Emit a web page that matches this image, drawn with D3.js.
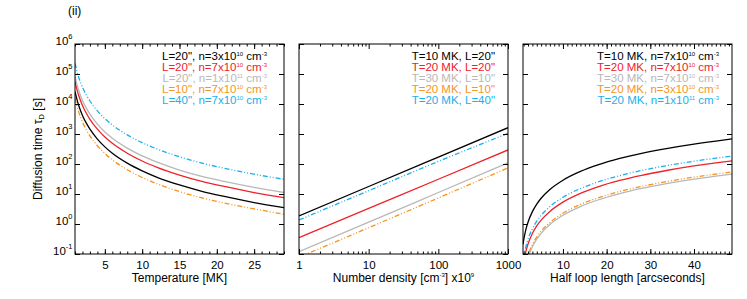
<!DOCTYPE html>
<html>
<head>
<meta charset="utf-8">
<title>Diffusion time</title>
<script src="https://d3js.org/d3.v7.min.js"></script>
<style>
body { margin: 0; background: #fff; }
text { font-family: "Liberation Sans", Arial, Helvetica, sans-serif; font-size: 12px; }
</style>
</head>
<body>
<div id="chart"></div>
<script>
// colours and line styles, same order in every panel
var colors = ["#000000", "#ee2229", "#b8b8b8", "#f7941d", "#19b0ec"];
var dashes = [null, null, null, "5,2,1,2,1,2", "5,2,1,2,1,2"];

// left panel: tau vs temperature [MK]
var temperature = [1, 1.25, 1.5, 2, 2.5, 3, 4, 5, 6, 8, 10, 12, 15, 18, 21, 25, 29];
var tauT_L20_n3e10 = [26300, 14500, 8900, 4170, 2340, 1450, 676, 372, 229, 107, 59, 36, 20, 12.3, 8.3, 5.2, 3.5];
var tauT_L20_n7e10 = [56200, 30900, 19100, 8910, 5010, 3090, 1450, 794, 490, 229, 126, 77.6, 42.7, 26.3, 17.8, 11.2, 7.6];
var tauT_L20_n1e11 = [83200, 45700, 28200, 13200, 7410, 4570, 2140, 1170, 724, 339, 186, 115, 63, 38.9, 26.3, 16.6, 11.2];
var tauT_L10_n7e10 = [15800, 8710, 5370, 2510, 1410, 871, 407, 224, 138, 64.6, 35.5, 21.9, 12, 7.4, 5, 3.2, 2.1];
var tauT_L40_n7e10 = [229000, 126000, 77600, 36300, 20400, 12600, 5890, 3240, 2000, 933, 513, 316, 174, 107, 72.4, 45.7, 30.9];
var tempLegend = ['L=20", n=3x10^{10} cm^{-3}', 'L=20", n=7x10^{10} cm^{-3}', 'L=20", n=1x10^{11} cm^{-3}',
                  'L=10", n=7x10^{10} cm^{-3}', 'L=40", n=7x10^{10} cm^{-3}'];
var tempTicks = [5, 10, 15, 20, 25];

// middle panel: tau vs number density [x10^9 cm^-3]
var density = [1, 10, 100, 1000];
var tauN_T10_L20 = [1.85, 17.8, 170, 1620];
var tauN_T20_L20 = [0.35, 3.3, 31, 294];
var tauN_T30_L10 = [0.12, 1.15, 11.2, 109];
var tauN_T20_L10 = [0.078, 0.75, 7.4, 74];
var tauN_T20_L40 = [1.36, 12.9, 122, 1050];
var densLegend = ['T=10 MK, L=20"', 'T=20 MK, L=20"', 'T=30 MK, L=10"', 'T=20 MK, L=10"', 'T=20 MK, L=40"'];
var densTicks = [1, 10, 100, 1000];

// right panel: tau vs half loop length [arcsec]
var loopLength = [0.85, 1, 1.5, 2, 3, 4, 5, 7, 10, 14, 18, 23, 28, 34, 40, 45, 49];
var tauL_T10_n7e10 = [0.209, 0.288, 0.649, 1.15, 2.59, 4.61, 7.21, 14.1, 28.8, 56.5, 93.3, 153, 226, 333, 461, 583, 692];
var tauL_T20_n7e10 = [0.039, 0.0537, 0.121, 0.215, 0.483, 0.859, 1.34, 2.63, 5.37, 10.5, 17.4, 28.4, 42.1, 61.9, 85.9, 109, 129];
var tauL_T30_n7e10 = [0.0141, 0.0195, 0.0439, 0.078, 0.175, 0.312, 0.488, 0.955, 1.95, 3.82, 6.31, 10.3, 15.3, 22.5, 31.2, 39.4, 46.8];
var tauL_T20_n3e10 = [0.0166, 0.0229, 0.0515, 0.0916, 0.206, 0.366, 0.573, 1.12, 2.29, 4.49, 7.41, 12.1, 17.9, 26.4, 36.6, 46.3, 55];
var tauL_T20_n1e11 = [0.056, 0.0776, 0.175, 0.310, 0.698, 1.24, 1.94, 3.80, 7.76, 15.2, 25.1, 41.1, 60.8, 89.5, 124, 157, 186];
var lenLegend = ['T=10 MK, n=7x10^{10} cm^{-3}', 'T=20 MK, n=7x10^{10} cm^{-3}', 'T=30 MK, n=7x10^{10} cm^{-3}',
                 'T=20 MK, n=3x10^{10} cm^{-3}', 'T=20 MK, n=1x10^{11} cm^{-3}'];
var lenTicks = [10, 20, 30, 40];

// shared y axis
var yTicks = [0.1, 1, 10, 100, 1000, 1e4, 1e5, 1e6];
var yTickLabels = ["10^{-1}", "10^{0}", "10^{1}", "10^{2}", "10^{3}", "10^{4}", "10^{5}", "10^{6}"];

var plotTop = 44, plotW = 209, plotH = 210;

// writes "a^{b}" / "a_{b}" strings as tspans
function rich(sel, str, small, up, down) {
  var shift = 0, re = /\^\{([^}]*)\}|_\{([^}]*)\}|([^\^_]+)/g, m;
  while ((m = re.exec(str))) {
    var t, target, isSmall = true;
    if (m[1] !== undefined) { t = m[1]; target = -up; }
    else if (m[2] !== undefined) { t = m[2]; target = down; }
    else { t = m[3]; target = 0; isSmall = false; }
    sel.append("tspan")
      .attr("dy", target - shift)
      .style("font-size", isSmall ? small + "px" : null)
      .text(t);
    shift = target;
  }
}

var svg = d3.select("#chart").append("svg")
  .attr("width", 747)
  .attr("height", 299);

svg.append("text").attr("x", 68).attr("y", 15).style("font-size", "12px").text("(ii)");

var yTitle = svg.append("text")
  .attr("transform", "translate(42," + (plotTop + plotH / 2) + ") rotate(-90)")
  .attr("text-anchor", "middle");
rich(yTitle, "Diffusion time \u03c4_{D} [s]", 7.5, 4, 2);

var y = d3.scaleLog().domain([0.1, 1e6]).range([plotH, 0]);

var logMinor = [];
[1, 10, 100].forEach(function(d) { d3.range(2, 10).forEach(function(k) { logMinor.push(d * k); }); });

var panels = [
  {left: 75, x: d3.scaleLinear().domain([1, 29]), xs: temperature,
   series: [tauT_L20_n3e10, tauT_L20_n7e10, tauT_L20_n1e11, tauT_L10_n7e10, tauT_L40_n7e10],
   legend: tempLegend, ticks: tempTicks, minor: d3.range(1, 30), legendEnd: 267,
   title: "Temperature [MK]", yLabels: true},
  {left: 299, x: d3.scaleLog().domain([1, 1000]), xs: density,
   series: [tauN_T10_L20, tauN_T20_L20, tauN_T30_L10, tauN_T20_L10, tauN_T20_L40],
   legend: densLegend, ticks: densTicks, minor: logMinor, legendEnd: 495,
   title: "Number density [cm^{-3}] x10^{9}", yLabels: false},
  {left: 523, x: d3.scaleLinear().domain([0.85, 48.7]), xs: loopLength,
   series: [tauL_T10_n7e10, tauL_T20_n7e10, tauL_T30_n7e10, tauL_T20_n3e10, tauL_T20_n1e11],
   legend: lenLegend, ticks: lenTicks, minor: d3.range(1, 49), legendEnd: 719,
   title: "Half loop length [arcseconds]", yLabels: false}
];

function noDomain(g) { g.select(".domain").remove(); }

panels.forEach(function(p, pi) {
  var x = p.x.range([0, plotW]);
  var g = svg.append("g").attr("transform", "translate(" + p.left + "," + plotTop + ")");

  g.append("clipPath").attr("id", "clip" + pi)
    .append("rect").attr("width", plotW).attr("height", plotH);

  var line = d3.line()
    .x(function(d) { return x(d[0]); })
    .y(function(d) { return y(d[1]); })
    .curve(d3.curveMonotoneX);

  p.series.forEach(function(vals, i) {
    g.append("path")
      .datum(p.xs.map(function(v, j) { return [v, vals[j]]; }))
      .attr("clip-path", "url(#clip" + pi + ")")
      .attr("d", line)
      .attr("fill", "none")
      .attr("stroke", colors[i])
      .attr("stroke-width", 1.3)
      .attr("stroke-dasharray", dashes[i]);
  });

  // x axes, ticks pointing inwards top and bottom
  g.append("g").attr("transform", "translate(0," + plotH + ")")
    .call(d3.axisBottom(x).tickValues(p.minor).tickSize(-2.5).tickFormat("")).call(noDomain);
  g.append("g").attr("transform", "translate(0," + plotH + ")")
    .call(d3.axisBottom(x).tickValues(p.ticks).tickSize(-5).tickPadding(7).tickFormat(d3.format("d")))
    .call(noDomain);
  g.append("g")
    .call(d3.axisTop(x).tickValues(p.minor).tickSize(-2.5).tickFormat("")).call(noDomain);
  g.append("g")
    .call(d3.axisTop(x).tickValues(p.ticks).tickSize(-5).tickFormat("")).call(noDomain);

  // y axes
  var yl = g.append("g")
    .call(d3.axisLeft(y).tickValues(yTicks).tickSize(-5).tickPadding(2.5)
      .tickFormat(function(d, i) { return p.yLabels ? yTickLabels[i] : ""; }))
    .call(noDomain);
  if (p.yLabels) {
    yl.selectAll("text").each(function() {
      var s = d3.select(this), str = s.text();
      s.text(null);
      rich(s, str, 7.5, 5.5, 0);
    });
  }
  g.append("g").attr("transform", "translate(" + plotW + ",0)")
    .call(d3.axisRight(y).tickValues(yTicks).tickSize(-5).tickFormat("")).call(noDomain);

  g.append("rect")
    .attr("width", plotW).attr("height", plotH)
    .attr("fill", "none").attr("stroke", "#000").attr("stroke-width", 1);

  g.selectAll(".tick text").style("font-size", "11.5px");

  // legend
  p.legend.forEach(function(lab, i) {
    var t = g.append("text")
      .attr("x", p.legendEnd - p.left)
      .attr("y", 16 + i * 11.1)
      .attr("text-anchor", "end")
      .attr("fill", colors[i])
      .style("font-size", "11.5px");
    rich(t, lab, 6, 4.5, 0);
  });

  var tt = svg.append("text")
    .attr("x", p.left + plotW / 2)
    .attr("y", 281.5)
    .attr("text-anchor", "middle");
  rich(tt, p.title, 6, 4.5, 0);
});
</script>
</body>
</html>
